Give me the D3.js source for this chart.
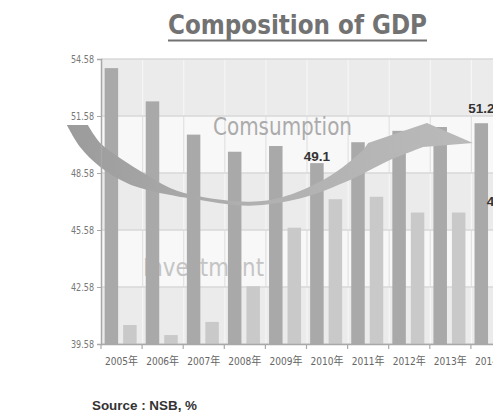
<!DOCTYPE html>
<html><head><meta charset="utf-8">
<script src="https://cdn.jsdelivr.net/npm/d3@7"></script>
<style>
html,body{margin:0;padding:0;background:#fff;overflow:hidden}
svg{display:block}
</style></head>
<body>
<svg id="chart" width="493" height="414"></svg>
<script>
// ---- data ----
const years = ["2005年","2006年","2007年","2008年","2009年","2010年","2011年","2012年","2013年","2014年"];
const consumption = [54.1, 52.35, 50.6, 49.7, 50.0, 49.1, 50.2, 50.8, 51.0, 51.2];
const investment  = [40.58, 40.05, 40.74, 42.62, 45.7, 47.2, 47.33, 46.5, 46.5, 46.3];
const yTicks = [39.58, 42.58, 45.58, 48.58, 51.58, 54.58];
const valueLabels = [
  {i: 5, s: "c", text: "49.1", gap: 2},
  {i: 9, s: "c", text: "51.2", gap: 10},
  {i: 9, s: "i", text: "46.3", gap: 10}
];
// decorative arrow outline, in [category position, value] coordinates
const arrowLower = [[-0.83,51.1],[-0.51,49.95],[-0.02,48.9],[0.63,48.05],[1.12,47.69],[2.41,47.16],[3.62,46.86],[4.84,47.24],[6.06,48.21],[7.03,49.26],[7.84,49.95]];
const arrowHead  = [[9.05,50.16],[7.93,51.21],[6.5,50.16]];
const arrowUpper = [[6.38,49.79],[5.89,48.9],[5.26,48.05],[4.43,47.32],[3.62,47.07],[2.41,47.34],[1.68,47.79],[1.12,48.47],[0.46,49.37],[-0.02,50.16],[-0.32,51.1]];

// ---- layout ----
const svg = d3.select("#chart");
const pLeft = 101, pRight = 512, pTop = 59, pBottom = 344;
const narrow = "'Liberation Sans Narrow','DejaVu Sans Condensed','Noto Sans CJK SC',sans-serif";

const x = d3.scaleBand().domain(years).range([pLeft, pRight]).padding(0);
const sub = d3.scaleBand().domain(["c","i"]).range([0, x.bandwidth()]).paddingInner(0.27).paddingOuter(0.246).align(0.4);
const y = d3.scaleLinear().domain([39.58, 54.58]).range([pBottom, pTop]);
const xi = d3.scaleLinear().domain([0, 10]).range([pLeft, pRight]);

// background stripes
const stripes = d3.pairs(yTicks);
svg.append("g").selectAll("rect").data(stripes).join("rect")
  .attr("x", pLeft).attr("width", pRight - pLeft)
  .attr("y", d => y(d[1])).attr("height", d => y(d[0]) - y(d[1]))
  .attr("fill", (d, i) => i % 2 === 0 ? "#ebebeb" : "#f8f8f8");

// vertical gridlines per stripe
const vg = svg.append("g");
stripes.forEach((s, si) => {
  vg.append("g").selectAll("line").data(years.slice(1)).join("line")
    .attr("x1", d => x(d) + 0.5).attr("x2", d => x(d) + 0.5)
    .attr("y1", y(s[1])).attr("y2", y(s[0]))
    .attr("stroke", si % 2 === 0 ? "#f6f6f6" : "#e2e2e2").attr("stroke-width", 1.2);
});
// horizontal gridlines
svg.append("g").selectAll("line").data(yTicks).join("line")
  .attr("x1", pLeft).attr("x2", pRight)
  .attr("y1", d => y(d)).attr("y2", d => y(d))
  .attr("stroke", "#d9d9d9").attr("stroke-width", 1.5);

// "Investment" background text
svg.append("text").attr("x", 143).attr("y", 276)
  .attr("font-family", narrow).attr("font-size", 24)
  .attr("textLength", 121).attr("lengthAdjust", "spacingAndGlyphs")
  .attr("fill", "#c4c4c4").text("Investment");

// bars
const gBars = svg.append("g");
gBars.selectAll("rect.c").data(consumption).join("rect").attr("class","c")
  .attr("x", (d, i) => x(years[i]) + sub("c")).attr("width", sub.bandwidth())
  .attr("y", d => y(d)).attr("height", d => pBottom - y(d))
  .attr("fill", "#a9a9a9");
gBars.selectAll("rect.i").data(investment).join("rect").attr("class","i")
  .attr("x", (d, i) => x(years[i]) + sub("i")).attr("width", sub.bandwidth())
  .attr("y", d => y(d)).attr("height", d => pBottom - y(d))
  .attr("fill", "#c9c9c9");

// arrow
const defs = svg.append("defs");
const grad = defs.append("linearGradient").attr("id", "ag")
  .attr("gradientUnits", "userSpaceOnUse")
  .attr("x1", xi(-0.83)).attr("x2", xi(9.05)).attr("y1", 0).attr("y2", 0);
grad.append("stop").attr("offset", "0%").attr("stop-color", "#9b9b9b");
grad.append("stop").attr("offset", "45%").attr("stop-color", "#b0b0b0");
grad.append("stop").attr("offset", "100%").attr("stop-color", "#bababa");
const ln = d3.line().x(d => xi(d[0])).y(d => y(d[1])).curve(d3.curveCatmullRom);
const pLower = ln(arrowLower);
const pHead = arrowHead.map(d => "L" + xi(d[0]) + "," + y(d[1])).join("");
const pUpper = ln(arrowUpper).replace(/^M/, "L");
svg.append("path").attr("d", pLower + pHead + pUpper + "Z").attr("fill", "url(#ag)");

// "Comsumption" text
svg.append("text").attr("x", 213).attr("y", 135)
  .attr("font-family", narrow).attr("font-size", 25)
  .attr("textLength", 139).attr("lengthAdjust", "spacingAndGlyphs")
  .attr("fill", "#ababab").text("Comsumption");

// value labels
svg.append("g").selectAll("text").data(valueLabels).join("text")
  .attr("x", d => x(years[d.i]) + sub(d.s) + sub.bandwidth() / 2)
  .attr("y", d => y(d.s === "c" ? consumption[d.i] : investment[d.i]) - d.gap)
  .attr("text-anchor", "middle")
  .attr("font-family", "'Liberation Sans','DejaVu Sans',sans-serif")
  .attr("font-weight", "bold").attr("font-size", 13.5)
  .attr("fill", "#333").text(d => d.text);

// axes
const yAxis = svg.append("g").attr("transform", `translate(${pLeft},0)`)
  .call(d3.axisLeft(y).tickValues(yTicks).tickSize(4).tickFormat(d => d.toFixed(2)));
yAxis.select(".domain").attr("stroke", "#a8a8a8").attr("stroke-width", 1.5);
yAxis.selectAll(".tick line").attr("stroke", "#aaa");
yAxis.selectAll(".tick text").attr("font-family", narrow).attr("font-size", 11)
  .attr("fill", "#777").attr("x", -7).attr("textLength", 23).attr("lengthAdjust", "spacingAndGlyphs");

const xAxis = svg.append("g").attr("transform", `translate(0,${pBottom})`)
  .call(d3.axisBottom(x).tickSize(0).tickPadding(13));
xAxis.select(".domain").attr("stroke", "#a8a8a8").attr("stroke-width", 1.5);
xAxis.selectAll(".tick text").attr("font-family", narrow).attr("font-size", 11)
  .attr("fill", "#666").attr("textLength", 33).attr("lengthAdjust", "spacingAndGlyphs");
xAxis.selectAll("line.bt").data(years.concat(["end"])).join("line").attr("class", "bt")
  .attr("x1", (d, i) => i < years.length ? x(d) : pRight)
  .attr("x2", (d, i) => i < years.length ? x(d) : pRight)
  .attr("y1", 0).attr("y2", 5).attr("stroke", "#aaa").attr("stroke-width", 1.2);

// title
svg.append("text").attr("x", 168).attr("y", 34)
  .attr("font-family", "'DejaVu Sans Condensed','DejaVu Sans',sans-serif").attr("font-weight", "bold").attr("font-size", 26)
  .attr("textLength", 259).attr("lengthAdjust", "spacingAndGlyphs")
  .attr("fill", "#727272").text("Composition of GDP");
svg.append("line").attr("x1", 168).attr("x2", 427).attr("y1", 40.5).attr("y2", 40.5)
  .attr("stroke", "#727272").attr("stroke-width", 2);

// source
svg.append("text").attr("x", 92).attr("y", 410)
  .attr("font-family", "'Liberation Sans','DejaVu Sans',sans-serif").attr("font-weight", "bold")
  .attr("font-size", 12.5).attr("textLength", 105).attr("lengthAdjust", "spacingAndGlyphs")
  .attr("fill", "#333").text("Source : NSB, %");
</script>
</body></html>
